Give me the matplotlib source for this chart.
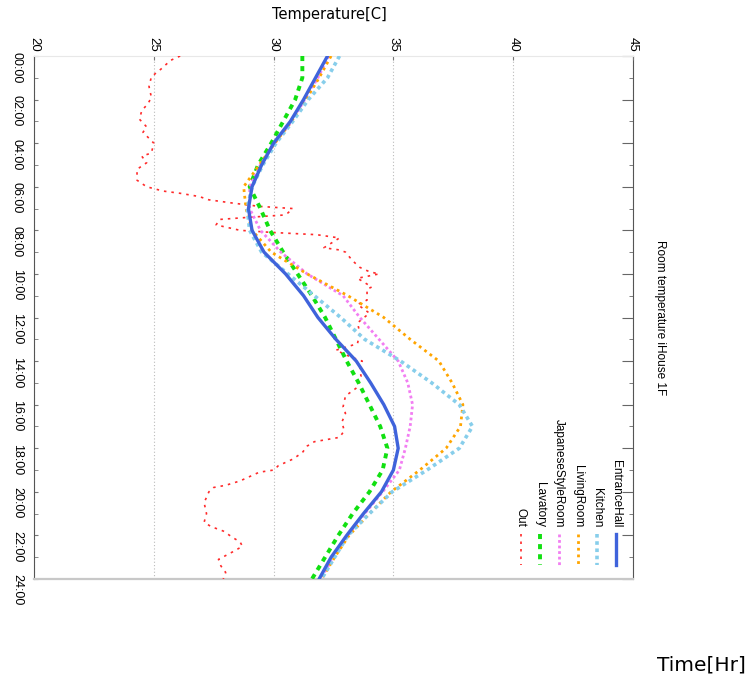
import matplotlib
matplotlib.use("Agg")
import matplotlib.pyplot as plt
from matplotlib.patches import Rectangle
from matplotlib.ticker import MultipleLocator, FuncFormatter

plt.rcParams["font.family"] = ["Liberation Sans", "DejaVu Sans"]

# DATA (hourly readings, 00:00 .. 24:00)
hours = list(range(25))

entrance_hall = [32.25, 31.75, 31.25, 30.7, 30.0, 29.5, 29.1, 28.95, 29.1, 29.6,
                 30.5, 31.25, 31.85, 32.6, 33.45, 34.05, 34.6, 35.05, 35.2, 35.0,
                 34.5, 33.75, 33.05, 32.4, 31.9]
kitchen = [32.75, 32.25, 31.45, 30.8, 30.1, 29.55, 29.1, 28.9, 29.0, 29.5,
           30.6, 31.7, 32.8, 33.8, 35.3, 36.6, 37.75, 38.3, 37.75, 36.4,
           34.95, 34.0, 33.1, 32.55, 32.0]
living_room = [32.4, 31.9, 31.35, 30.75, 30.05, 29.4, 28.75, 28.85, 29.1, 29.9,
               31.4, 33.1, 34.6, 35.7, 36.9, 37.45, 37.9, 37.8, 37.2, 36.1,
               34.9, 34.0, 33.15, 32.55, 32.0]
japanese_room = [32.3, 31.85, 31.3, 30.75, 30.05, 29.45, 29.0, 29.0, 29.45, 30.3,
                 31.4, 32.9, 33.6, 34.4, 35.2, 35.6, 35.8, 35.7, 35.5, 35.25,
                 34.55, 33.8, 33.1, 32.5, 31.95]
lavatory = [31.2, 31.2, 30.9, 30.4, 29.9, 29.35, 29.0, 29.45, 29.85, 30.4,
            31.0, 31.6, 32.15, 32.6, 33.05, 33.55, 34.0, 34.45, 34.75, 34.55,
            34.0, 33.3, 32.7, 32.15, 31.6]

# outside air, irregular samples
out_hours = [0.0, 0.2, 0.6, 0.95, 1.4, 1.9, 2.2, 2.5, 2.9, 3.25, 3.5, 4.0, 4.45,
             4.6, 4.9, 5.2, 5.7, 6.0, 6.2, 6.3, 6.45, 6.6, 6.75, 6.9, 7.0, 7.2,
             7.3, 7.4, 7.5, 7.75, 8.0, 8.1, 8.2, 8.35, 8.8, 8.9, 9.0, 9.4, 9.7,
             9.9, 10.0, 10.2, 10.6, 10.7, 11.2, 11.4, 11.8, 12.25, 12.7, 13.2,
             13.5, 13.8, 14.0, 14.4, 14.7, 15.2, 15.6, 16.1, 16.4, 16.8, 17.2,
             17.5, 17.7, 17.9, 18.2, 18.5, 18.8, 19.0, 19.1, 19.3, 19.5, 19.7,
             19.8, 20.0, 20.5, 21.0, 21.4, 21.6, 21.8, 22.1, 22.3, 22.5, 22.75,
             23.1, 23.4, 23.7, 24.0]
out_temp = [26.1, 25.7, 25.3, 24.9, 24.8, 24.9, 24.75, 24.5, 24.4, 24.7, 24.55,
            25.0, 24.9, 24.5, 24.7, 24.3, 24.3, 24.7, 25.4, 26.1, 26.9, 27.3,
            28.3, 29.4, 30.8, 30.6, 30.4, 29.0, 27.75, 27.6, 28.6, 30.0, 31.8,
            32.75, 32.1, 32.75, 33.0, 33.3, 33.6, 34.0, 34.4, 33.5, 34.1, 33.9,
            33.9, 33.5, 34.0, 33.5, 33.6, 33.5, 32.6, 33.2, 33.7, 33.6, 33.65,
            33.5, 33.0, 32.9, 33.0, 32.85, 32.95, 32.75, 31.7, 31.4, 31.2, 30.8,
            30.2, 30.0, 29.4, 29.0, 28.6, 28.0, 27.5, 27.3, 27.1, 27.2, 27.1,
            27.4, 27.9, 28.3, 28.6, 28.7, 28.3, 27.7, 27.8, 28.0, 27.9]

temp_ticks = [20, 25, 30, 35, 40, 45]
series_names = ["EntranceHall", "Kitchen", "LivingRoom", "JapaneseStyleRoom",
                "Lavatory", "Out"]

fig = plt.figure(figsize=(7.5, 6.79), dpi=100)
ax = fig.add_axes([34 / 750, 100 / 679, 599 / 750, 523 / 679])

styles = [
    dict(color="#3f63db", lw=2.4, ls="-"),
    dict(color="#87ceeb", lw=2.6, ls=(0, (1, 1))),
    dict(color="#ffa500", lw=2.0, ls=(0, (1, 1.4))),
    dict(color="#f27ef2", lw=2.0, ls=(0, (1, 1))),
    dict(color="#11e011", lw=2.8, ls=(0, (1.3, 1.3))),
    dict(color="#ff2a2a", lw=1.2, ls=(0, (1.5, 3))),
]
series = [entrance_hall, kitchen, living_room, japanese_room, lavatory]

# draw back to front like gnuplot (first key on top)
ax.plot(out_temp, out_hours, zorder=3, **styles[5])
for vals, st, z in zip(series[::-1], styles[4::-1], range(4, 9)):
    ax.plot(vals, hours, zorder=z, **st)

ax.set_xlim(20, 45)
ax.set_ylim(24, 0)

# temperature axis on top
ax.xaxis.tick_top()
ax.set_xticks(temp_ticks)
ax.set_xticklabels([str(t) for t in temp_ticks], rotation=-90, fontsize=9.5)
ax.tick_params(axis="x", direction="in", length=3, pad=3, color="#777777")

# time axis on left
ax.yaxis.set_major_locator(MultipleLocator(2))
ax.yaxis.set_minor_locator(MultipleLocator(1))
ax.yaxis.set_major_formatter(FuncFormatter(lambda v, p: "%02d:00" % int(v)))
ax.tick_params(axis="y", which="both", direction="in", length=3, pad=8,
               color="#777777", labelsize=9, labelrotation=-90)

sec = ax.secondary_yaxis("right")
sec.yaxis.set_major_locator(MultipleLocator(2))
sec.yaxis.set_minor_locator(MultipleLocator(1))
sec.tick_params(axis="y", which="major", direction="in", length=8,
                labelright=False, color="#666666")
sec.tick_params(axis="y", which="minor", direction="in", length=3,
                color="#666666")
sec.spines["right"].set_color("#555555")

ax.spines["left"].set_color("#555555")
ax.spines["right"].set_visible(False)
ax.spines["top"].set_color("#e8e8e8")
ax.spines["bottom"].set_color("#c8c8c8")
ax.spines["bottom"].set_linewidth(1.6)

ax.set_axisbelow(True)
ax.grid(axis="x", color="#bbbbbb", ls=(0, (1, 2)), lw=0.8)

# key box blanks the grid under it
ax.add_patch(Rectangle((0.79, 0.0), 0.18, 0.342, transform=ax.transAxes,
                       facecolor="white", edgecolor="none", zorder=1))

# key with rotated entries
x0 = (616 - 34) / 599
dx = 19 / 599
for i, (name, st) in enumerate(zip(series_names, styles)):
    xk = x0 - i * dx
    ax.plot([xk, xk], [0.086, 0.027], transform=ax.transAxes, clip_on=False,
            zorder=10, **st)
    ax.text(xk, 0.0994, name, transform=ax.transAxes, rotation=-90,
            rotation_mode="anchor", ha="right", va="center", fontsize=8.5)

fig.text(660 / 750, 1 - 318 / 679, "Room temperature iHouse 1F", rotation=-90,
         ha="center", va="center", fontsize=8.5)
fig.text(329 / 750, 1 - 15 / 679, "Temperature[C]", ha="center", va="center",
         fontsize=10.5, family="DejaVu Sans")
fig.text(657 / 750, 1 - 665 / 679, "Time[Hr]", ha="left", va="center",
         fontsize=14.5, family="DejaVu Sans")

fig.savefig("out.png", dpi=100)
